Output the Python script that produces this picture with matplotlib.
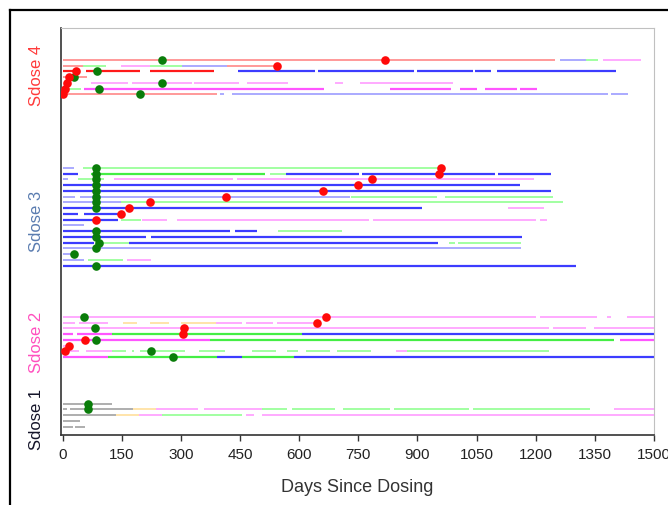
import matplotlib.pyplot as plt
import matplotlib.transforms as mtransforms
from matplotlib.lines import Line2D

# segment colour codes: upper case = strong line, lower case = faded line
colors = {'R': '#ff1a1a', 'r': '#ff8c8c',
          'B': '#3c3cff', 'b': '#a0a0ff',
          'G': '#44ee44', 'g': '#96ff96',
          'P': '#ff55ff', 'p': '#ffa0ff',
          'k': '#a4a4a4', 'y': '#ffe0a0'}

group_names = ["Sdose 4", "Sdose 3", "Sdose 2", "Sdose 1"]
group_colors = ["#ff3a3a", "#5a7cb0", "#ff4fbe", "#15152a"]

# each row: list of (start day, end day, colour code)
sdose4_rows = [
    [(0, 1250, 'r'), (1263, 1328, 'b'), (1328, 1359, 'g'), (1371, 1467, 'p')],
    [(0, 51, 'r'), (51, 109, 'g'), (147, 222, 'p'), (222, 303, 'g'), (303, 417, 'b'), (417, 535, 'r')],
    [(0, 30, 'R'), (59, 195, 'R'), (222, 384, 'R'), (444, 640, 'B'), (648, 892, 'B'), (900, 1040, 'B'),
     (1046, 1087, 'B'), (1101, 1403, 'B')],
    [(0, 62, 'r')],
    [(71, 165, 'p'), (177, 329, 'p'), (334, 448, 'p'), (467, 572, 'p'), (691, 712, 'p'), (754, 990, 'p')],
    [(10, 47, 'g'), (55, 663, 'P'), (830, 985, 'P'), (1009, 1052, 'P'), (1071, 1152, 'P'), (1160, 1203, 'P')],
    [(0, 391, 'r'), (400, 409, 'b'), (430, 1384, 'b'), (1392, 1434, 'b')],
]
sdose4_red = [(818, 0), (545, 1), (35, 2), (17, 3), (12, 4), (6, 5), (2, 6)]
sdose4_green = [(251, 0), (86, 2), (28, 3), (251, 4), (91, 5), (195, 6)]

sdose3_rows = [
    [(0, 28, 'b'), (52, 958, 'g')],
    [(0, 38, 'B'), (72, 513, 'G'), (526, 567, 'g'), (567, 753, 'B'), (759, 1097, 'B'), (1104, 1238, 'B')],
    [(0, 13, 'b'), (38, 105, 'g'), (131, 431, 'p'), (441, 1196, 'p')],
    [(0, 1160, 'B')],
    [(0, 1240, 'B')],
    [(0, 31, 'b'), (43, 728, 'b'), (732, 950, 'g'), (969, 1244, 'g')],
    [(0, 148, 'b'), (148, 1269, 'g')],
    [(0, 912, 'B'), (1129, 1222, 'p')],
    [(0, 38, 'B'), (55, 143, 'B')],
    [(0, 140, 'B'), (148, 198, 'g'), (202, 265, 'p'), (290, 776, 'p'), (788, 1202, 'p'), (1210, 1230, 'p')],
    [(0, 53, 'b')],
    [(0, 425, 'B'), (437, 492, 'B'), (547, 708, 'g')],
    [(0, 211, 'B'), (225, 1166, 'B')],
    [(0, 80, 'B'), (93, 169, 'g'), (169, 952, 'B'), (979, 996, 'g'), (1003, 1162, 'g')],
    [(0, 1162, 'b')],
    [(0, 22, 'b')],
    [(0, 55, 'b'), (64, 152, 'g'), (164, 223, 'p')],
    [(0, 1303, 'B')],
]
sdose3_red = [(961, 0), (954, 1), (786, 2), (748, 3), (660, 4), (415, 5), (221, 6), (167, 7), (149, 8), (85, 9)]
sdose3_green = [(85, 0), (85, 1), (85, 2), (85, 3), (85, 4), (85, 5), (85, 6), (85, 7),
                (85, 11), (85, 12), (93, 13), (85, 14), (28, 15), (85, 17)]

sdose2_rows = [
    [(0, 1200, 'p'), (1210, 1356, 'p'), (1380, 1390, 'p'), (1432, 1500, 'p')],
    [(0, 32, 'p'), (42, 115, 'p'), (154, 188, 'y'), (222, 270, 'y'), (300, 388, 'y'), (388, 456, 'p'),
     (466, 533, 'p'), (543, 650, 'p')],
    [(0, 1235, 'p'), (1244, 1327, 'p'), (1347, 1500, 'p')],
    [(0, 27, 'P'), (37, 124, 'P'), (124, 606, 'G'), (606, 1500, 'B')],
    [(0, 373, 'P'), (373, 1400, 'G'), (1415, 1500, 'P')],
    [(0, 10, 'p')],
    [(0, 42, 'p'), (58, 125, 'p'), (125, 160, 'g'), (175, 182, 'g'), (195, 310, 'g'), (345, 413, 'g'),
     (480, 540, 'g'), (570, 598, 'g'), (618, 677, 'g'), (696, 783, 'g'), (845, 874, 'p'), (874, 1235, 'g')],
    [(0, 115, 'P'), (115, 392, 'G'), (392, 455, 'B'), (455, 587, 'G'), (587, 1500, 'B')],
]
sdose2_red = [(668, 0), (645, 1), (307, 2), (305, 3), (56, 4), (17, 5), (7, 6)]
sdose2_green = [(53, 0), (83, 2), (85, 4), (223, 6), (280, 7)]

sdose1_rows = [
    [(0, 124, 'k')],
    [(0, 10, 'k'), (18, 178, 'k'), (178, 236, 'y'), (236, 343, 'p'), (358, 505, 'p'), (505, 568, 'g'),
     (583, 690, 'g'), (710, 831, 'g'), (841, 1031, 'g'), (1041, 1337, 'g'), (1400, 1500, 'p')],
    [(0, 134, 'k'), (134, 193, 'y'), (193, 251, 'p'), (251, 456, 'g'), (466, 485, 'p'), (505, 1500, 'p')],
    [(0, 44, 'k')],
    [(0, 25, 'k'), (30, 57, 'k')],
]
sdose1_red = []
sdose1_green = [(64, 0), (64, 1)]

xticks = [0, 150, 300, 450, 600, 750, 900, 1050, 1200, 1350, 1500]

# layout: first row position of each group (rows go downward, one unit apart)
group_top = [5.5, 24.3, 50.2, 65.3]
label_y = [8.1, 33.5, 54.4, 67.9]

fig = plt.figure(figsize=(6.68, 5.06), dpi=100)
ax = fig.add_axes([0.0909, 0.139, 0.888, 0.803])

groups = [(sdose4_rows, sdose4_red, sdose4_green),
          (sdose3_rows, sdose3_red, sdose3_green),
          (sdose2_rows, sdose2_red, sdose2_green),
          (sdose1_rows, sdose1_red, sdose1_green)]

for g, (rows, red, green) in enumerate(groups):
    top = group_top[g]
    for i, row in enumerate(rows):
        for start, end, code in row:
            lw = 1.6 if code.isupper() else 1.25
            ax.hlines(top + i, start, end, colors=colors[code], lw=lw, zorder=2)
    for day, i in green:
        ax.plot(day, top + i, 'o', color='#0a7d0a', ms=6.2, mec='none', zorder=3)
    for day, i in red:
        ax.plot(day, top + i, 'o', color='#ff0a0a', ms=6.2, mec='none', zorder=4)

trans = mtransforms.blended_transform_factory(ax.transAxes, ax.transData)
for g in range(4):
    ax.text(-0.04, label_y[g], group_names[g], transform=trans, rotation=90,
            ha='center', va='center', color=group_colors[g],
            fontsize=12, family='Liberation Sans')

ax.set_xlim(-5, 1500)
ax.set_ylim(70.7, 0)
ax.set_xticks(xticks)
ax.set_xticklabels([str(t) for t in xticks], family='Liberation Sans', fontsize=11, color='#222222')
ax.set_yticks([])
ax.tick_params(axis='x', direction='out', length=4, width=1, color='#333333', pad=5)
ax.set_xlabel("Days Since Dosing", family='Liberation Sans', fontsize=13, color='#333333', labelpad=12)

ax.spines['left'].set_color('#333333')
ax.spines['bottom'].set_color('#333333')
ax.spines['left'].set_linewidth(1.2)
ax.spines['bottom'].set_linewidth(1.2)
ax.spines['top'].set_color('#c0c0c0')
ax.spines['right'].set_color('#c0c0c0')

# black frame of the original image (left and top edges)
fig.add_artist(Line2D([10 / 668, 10 / 668], [0, 1 - 11 / 506], color='black', lw=1.6,
                      transform=fig.transFigure))
fig.add_artist(Line2D([10 / 668, 1], [1 - 11 / 506, 1 - 11 / 506], color='black', lw=1.6,
                      transform=fig.transFigure))

fig.savefig("out.png", dpi=100)
